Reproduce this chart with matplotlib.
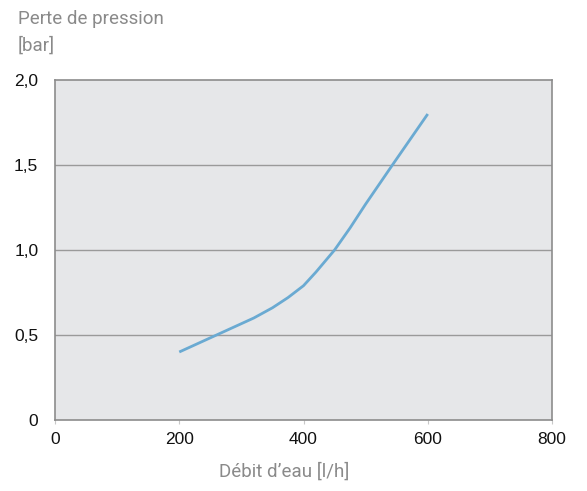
import matplotlib
matplotlib.use("Agg")
import matplotlib.pyplot as plt

debit = [200, 230, 260, 290, 320, 350, 375, 400, 420, 450, 475, 500, 545, 600]
perte = [0.40, 0.45, 0.50, 0.55, 0.60, 0.66, 0.72, 0.79, 0.87, 1.00, 1.13, 1.27, 1.51, 1.80]
xticks = [0, 200, 400, 600, 800]
yticks = [0, 0.5, 1.0, 1.5, 2.0]
ytick_labels = ["0", "0,5", "1,0", "1,5", "2,0"]

title_font = "Roboto"
tick_font = ["Liberation Sans", "DejaVu Sans"]

fig = plt.figure(figsize=(5.87, 4.91), dpi=100)
ax = fig.add_axes([55/587, 71/491, 497/587, 340/491])
ax.set_facecolor("#e6e7e9")
ax.plot(debit, perte, color="#6aaad2", lw=2.0, solid_capstyle="butt", solid_joinstyle="round")
ax.set_xlim(0, 800)
ax.set_ylim(0, 2.0)
ax.set_xticks(xticks)
ax.set_xticklabels([str(v) for v in xticks], fontsize=12.5, family=tick_font, color="#111111")
ax.set_yticks(yticks)
ax.set_yticklabels(ytick_labels, fontsize=12.5, family=tick_font, color="#111111")
for lab in ax.get_yticklabels():
    lab.set_va("center_baseline")
for y in yticks[1:-1]:
    ax.axhline(y, color="#9a9a9a", lw=1.0, zorder=0.5)
for s in ax.spines.values():
    s.set_color("#8c8c8c")
    s.set_linewidth(1.2)
ax.tick_params(axis="x", length=3, color="#c8c8c8", pad=6)
ax.tick_params(axis="y", length=0, pad=12)

fig.text(18/587, 1 - 19/491, "Perte de pression", fontsize=13.5, color="#8a8a8a",
         family=title_font, va="center", ha="left")
fig.text(18/587, 1 - 46/491, "[bar]", fontsize=13.5, color="#8a8a8a",
         family=title_font, va="center", ha="left")
fig.text(284/587, 1 - 472/491, "Débit d\u2019eau [l/h]", fontsize=13.5, color="#8a8a8a",
         family=title_font, va="center", ha="center")

fig.savefig("out.png", dpi=100)
